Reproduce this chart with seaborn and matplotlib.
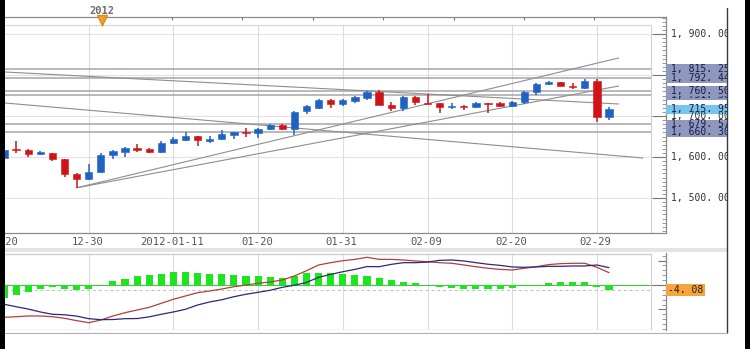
import numpy as np
import pandas as pd
import matplotlib
matplotlib.use("Agg")
import matplotlib.pyplot as plt
import seaborn as sns
from matplotlib.patches import Rectangle
from matplotlib.ticker import MultipleLocator, FixedLocator
from matplotlib.transforms import Bbox, TransformedBbox, blended_transform_factory

# ---------------- data ----------------
opens = [1598, 1618, 1617, 1607, 1609, 1594, 1558, 1546, 1564, 1605,
         1613, 1622, 1619, 1612, 1633, 1642, 1651, 1640, 1643, 1654,
         1661, 1658, 1668, 1678, 1668, 1711, 1720, 1739, 1729, 1737,
         1745, 1759, 1728, 1719, 1747, 1731, 1731, 1723, 1724, 1721,
         1731, 1731, 1725, 1735, 1758, 1777, 1782, 1774, 1768, 1786, 1697]
highs = [1622, 1640, 1619, 1614, 1610, 1595, 1562, 1582, 1609, 1618,
         1624, 1631, 1622, 1638, 1649, 1660, 1652, 1652, 1667, 1662,
         1670, 1670, 1680, 1680, 1713, 1728, 1741, 1741, 1742, 1748,
         1760, 1763, 1734, 1748, 1749, 1754, 1732, 1731, 1727, 1735,
         1731, 1733, 1737, 1760, 1780, 1785, 1783, 1780, 1790, 1790, 1721]
lows = [1592, 1609, 1601, 1604, 1591, 1552, 1525, 1545, 1562, 1595,
        1599, 1611, 1609, 1610, 1631, 1640, 1627, 1634, 1641, 1645,
        1650, 1647, 1666, 1666, 1654, 1706, 1717, 1719, 1725, 1732,
        1740, 1726, 1713, 1713, 1728, 1729, 1708, 1716, 1715, 1720,
        1708, 1721, 1723, 1729, 1751, 1775, 1772, 1766, 1767, 1686, 1690]
closes = [1616, 1616, 1607, 1611, 1594, 1559, 1546, 1564, 1606, 1614,
          1622, 1617, 1612, 1633, 1644, 1652, 1641, 1645, 1655, 1660,
          1659, 1668, 1678, 1668, 1710, 1724, 1739, 1729, 1739, 1746,
          1758, 1727, 1719, 1747, 1733, 1730, 1723, 1725, 1722, 1731,
          1730, 1725, 1735, 1758, 1778, 1782, 1773, 1770, 1786, 1697, 1716]

macd_hist = [-10.7, -8.2, -5.7, -3.3, -2.0, -2.9, -3.7, -3.3, -0.3, 2.9,
             4.9, 7.0, 7.8, 9.0, 10.4, 10.9, 10.1, 9.0, 8.8, 8.2,
             7.6, 7.4, 6.8, 6.0, 7.6, 9.6, 10.1, 9.6, 9.0, 8.2,
             7.6, 6.0, 4.1, 2.2, 1.4, 0.3, -1.9, -2.7, -3.3, -3.3,
             -3.3, -3.3, -2.5, -0.8, 0.2, 1.4, 2.2, 2.2, 2.2, -1.9, -4.08]
macd_line = [-26.5, -26.0, -25.4, -25.4, -26.0, -27.3, -29.2, -30.9, -28.7, -25.4,
             -22.7, -20.5, -18.3, -15.0, -11.7, -9.0, -6.3, -4.9, -3.3, -1.4,
             0.0, 1.4, 2.5, 4.1, 7.4, 11.7, 16.4, 18.3, 19.9, 21.0,
             22.7, 21.0, 21.0, 20.5, 19.7, 19.1, 18.3, 17.8, 16.4, 15.0,
             13.7, 12.8, 12.3, 13.7, 15.0, 16.7, 17.5, 17.8, 17.8, 14.5, 10.1]
signal_line = [-15.8, -17.8, -19.7, -22.1, -24.0, -24.4, -25.5, -27.6, -28.4, -28.3,
               -27.6, -27.5, -26.1, -24.0, -22.1, -19.9, -16.4, -13.9, -12.1, -9.6,
               -7.6, -6.0, -4.3, -1.9, -0.2, 2.1, 6.3, 8.7, 10.9, 12.8,
               15.1, 15.0, 16.9, 18.3, 18.3, 18.8, 20.2, 20.5, 19.7, 18.3,
               17.0, 16.1, 14.8, 14.5, 14.8, 15.3, 15.3, 15.6, 15.6, 16.4, 14.2]

date_labels = ["12-20", "12-30", "2012-01-11", "01-20", "01-31", "02-09", "02-20", "02-29"]
date_label_idx = [0, 7, 14, 21, 28, 35, 42, 49]
top_tick_idx = [8.1, 13.9, 19.7, 25.5, 31.3, 37.2, 43.0, 48.8]
year_label = "2012"
year_idx = 8.1

levels = [1815.25, 1792.44, 1760.50, 1679.57, 1660.30]
hidden_level = 1751.50
last_price = 1715.95
price_ticks = [1500, 1600, 1700, 1800, 1900]
last_hist = -4.08

# trend lines: (start index, start value, end index, end value)
trend_starts_idx = [6.03, 6.03, 0.08, 0.08]
trend_starts_val = [1525.0, 1525.0, 1807.3, 1731.7]
trend_ends_idx = [50.8, 50.8, 50.8, 52.8]
trend_ends_val = [1841.5, 1773.2, 1729.3, 1597.6]

# ---------------- layout ----------------
W, H = 753, 349
X0, STEP = 4.0, 12.1           # pixel of index 0 and pixel per candle
PPU = 0.41                      # pixels per price unit
Y1600 = 157.0
MPPU = 1.22                     # pixels per MACD unit
MZERO = 285.0

def px2idx(x):
    return (x - X0) / STEP

def py2val(y):
    return 1600 + (Y1600 - y) / PPU

def py2m(y):
    return (MZERO - y) / MPPU

sns.set_style("white")
plt.rcParams["font.family"] = ["DejaVu Sans Mono", "DejaVu Sans"]

fig = plt.figure(figsize=(W / 100, H / 100), dpi=100)
fig.patch.set_facecolor("white")
clip = TransformedBbox(Bbox([[0, 0], [727 / W, 1]]), fig.transFigure)

idx = np.arange(len(opens))
df = pd.DataFrame({"idx": idx, "open": opens, "high": highs, "low": lows, "close": closes,
                   "hist": macd_hist, "macd": macd_line, "signal": signal_line})

xlim = (px2idx(5), px2idx(666))
box_right = px2idx(651)

# ---------------- main price panel ----------------
ax = fig.add_axes([5 / W, 1 - 233 / H, 661 / W, 216 / H])
ax.set_xlim(*xlim)
ax.set_ylim(py2val(233), py2val(17))
ax.set_facecolor("white")

for s in ["left"]:
    ax.spines[s].set_visible(False)
for s in ["top", "bottom", "right"]:
    ax.spines[s].set_color("#8a8a8a")
    ax.spines[s].set_linewidth(0.9)

# grid
ax.hlines(price_ticks, xlim[0], box_right, color="#e2e2e2", lw=0.8, zorder=0)
ax.vlines(date_label_idx, py2val(233), py2val(25), color="#dcdcdc", lw=0.8, zorder=0)
ax.hlines(py2val(25), xlim[0], box_right, color="#d6d6d6", lw=0.8, zorder=0)
ax.vlines(box_right, py2val(233), py2val(25), color="#cfcfcf", lw=0.8, zorder=0)

# level lines
ax.hlines(levels + [hidden_level], xlim[0], box_right, color="#a4a4ac", lw=1.1, zorder=1)

# trend lines
for xs, ys, xe, ye in zip(trend_starts_idx, trend_starts_val, trend_ends_idx, trend_ends_val):
    ax.plot([xs, xe], [ys, ye], color="#8e8e8e", lw=0.8, zorder=2)

# candles
up = df["close"] >= df["open"]
blue, red = "#1f62c4", "#d01219"
colors = np.where(up, blue, red)
ax.vlines(df["idx"], df["low"], df["high"], colors=colors, lw=1.1, zorder=3)
body_bottom = np.minimum(df["open"], df["close"])
body_h = np.maximum(np.abs(df["close"] - df["open"]), 2.6)
ax.bar(df["idx"], body_h, bottom=body_bottom, width=0.6, color=colors,
       edgecolor=colors, linewidth=0.4, zorder=4)

# ticks
ax.yaxis.tick_right()
ax.yaxis.set_major_locator(FixedLocator(price_ticks))
ax.yaxis.set_minor_locator(MultipleLocator(10))
ax.tick_params(axis="y", which="major", direction="in", length=10, width=0.8,
               color="#777777", labelright=False, labelleft=False)
ax.tick_params(axis="y", which="minor", direction="in", length=3, width=0.6, color="#888888")
ax.xaxis.set_major_locator(FixedLocator(date_label_idx))
ax.xaxis.set_minor_locator(MultipleLocator(1))
ax.tick_params(axis="x", which="major", direction="in", length=6, width=0.9,
               color="#777777", labelbottom=False)
ax.tick_params(axis="x", which="minor", direction="in", length=2.5, width=0.6, color="#888888")

# top axis ticks and 2012 marker
ytop = py2val(17)
ax.vlines(top_tick_idx, ytop, py2val(20), color="#777777", lw=0.8, clip_on=False)
ax.plot([year_idx, year_idx], [ytop, py2val(26)], color="#e39a2a", lw=0.8, clip_on=False, zorder=6)
ax.plot([year_idx], [py2val(20)], marker="v", markersize=7, color="#f0a22f",
        markeredgecolor="#d98c1a", clip_on=False, zorder=7)
fig.text((X0 + STEP * year_idx) / W, 1 - 11 / H, year_label, ha="center", va="center",
         fontsize=7.5, fontweight="bold", color="#6a6a6a")

# date labels
tx = blended_transform_factory(ax.transData, fig.transFigure)
for i, lab in zip(date_label_idx, date_labels):
    t = ax.text(i - 0.1, 1 - 242 / H, lab, transform=tx, ha="center", va="center",
                fontsize=7.6, color="#555555", clip_on=False)

# right price labels
ty = blended_transform_factory(fig.transFigure, ax.transData)

def fmt(v):
    return f"{v:,.2f}".replace(",", ", ").replace(".", ". ")

def label(v, face=None, color="#1c1c4a", z=10):
    if face is not None:
        half = 4.8 / PPU
        r = Rectangle((666 / W, v - half), 61 / W, 2 * half, transform=ty,
                      facecolor=face, edgecolor="none", zorder=z, clip_on=False)
        fig.add_artist(r)
    t = fig.text(671 / W, v, fmt(v), transform=ty, ha="left", va="center",
                 fontsize=7, color=color, zorder=z + 0.5)
    t.set_clip_box(clip)
    t.set_clip_on(True)

for v in price_ticks:
    if v != 1700:
        label(v, None, "#333333", z=5)
label(hidden_level, "#8e98bd", z=10)
label(1760.50, "#8e98bd", z=11)
label(1815.25, "#8e98bd", z=11)
label(1792.44, "#8e98bd", z=12)
label(1679.57, "#8e98bd", z=11)
label(1660.30, "#8e98bd", z=12)
label(last_price, "#74c6ee", z=13)
label(1700, None, "#333333", z=14)

# ---------------- MACD panel ----------------
axm = fig.add_axes([5 / W, 1 - 330 / H, 661 / W, 77 / H])
axm.set_xlim(*xlim)
axm.set_ylim(py2m(330), py2m(253))
for s in ["left", "top", "bottom"]:
    axm.spines[s].set_visible(False)
axm.spines["right"].set_color("#8a8a8a")
axm.spines["right"].set_linewidth(0.9)
axm.hlines([py2m(253.5), py2m(329.5)], xlim[0], box_right, color="#cfcfcf", lw=1.0)
axm.vlines(box_right, py2m(330), py2m(253), color="#cfcfcf", lw=0.8)
axm.vlines(date_label_idx, py2m(330), py2m(253), color="#dcdcdc", lw=0.8, zorder=0)

axm.bar(df["idx"], df["hist"], width=0.58, color="#1ee61e", edgecolor="none", zorder=2)
axm.hlines(0, xlim[0], box_right, color="#3acc3a", lw=0.8, zorder=1)
axm.hlines(0, box_right, xlim[1], color="#777777", lw=0.8, zorder=1)
axm.hlines(last_hist, xlim[0], box_right, color="#bdbdbd", lw=0.7, linestyles=(0, (3, 3)), zorder=1)
sns.lineplot(data=df, x="idx", y="macd", color="#b0403c", lw=0.9, ax=axm, zorder=3)
sns.lineplot(data=df, x="idx", y="signal", color="#2a2a78", lw=0.9, ax=axm, zorder=3)
axm.set_xlabel("")
axm.set_ylabel("")
axm.yaxis.tick_right()
axm.yaxis.set_major_locator(MultipleLocator(20))
axm.yaxis.set_minor_locator(MultipleLocator(4))
axm.tick_params(axis="y", which="major", direction="in", length=6, width=0.8,
                color="#777777", labelright=False, labelleft=False)
axm.tick_params(axis="y", which="minor", direction="in", length=3, width=0.6, color="#888888")
axm.set_xticks([])

tym = blended_transform_factory(fig.transFigure, axm.transData)
hh = 6 / MPPU
fig.add_artist(Rectangle((666 / W, last_hist - hh), 39 / W, 2 * hh, transform=tym,
                         facecolor="#f5a53c", edgecolor="none", zorder=10))
fig.text(668 / W, last_hist, fmt(last_hist).replace("-", "-"), transform=tym, ha="left",
         va="center", fontsize=7, color="#222222", zorder=11)

# ---------------- frame decorations ----------------
fig.add_artist(Rectangle((5 / W, 1 - 252 / H), 722 / W, 4 / H, transform=fig.transFigure,
                         facecolor="#e4e4e4", edgecolor="none", zorder=0))
fig.add_artist(plt.Line2D([727 / W, 727 / W], [1 - 8 / H, 1 - 333 / H], transform=fig.transFigure,
                          color="#3a3a3a", lw=1.0))
fig.add_artist(plt.Line2D([5 / W, 727 / W], [1 - 333 / H, 1 - 333 / H], transform=fig.transFigure,
                          color="#b0b0b0", lw=0.8))
fig.add_artist(Rectangle((0, 0), 5 / W, 1, transform=fig.transFigure,
                         facecolor="black", edgecolor="none", zorder=20))
fig.add_artist(Rectangle((745 / W, 0), 5 / W, 1, transform=fig.transFigure,
                         facecolor="black", edgecolor="none", zorder=20))

fig.savefig("out.png", dpi=100, facecolor="white")
